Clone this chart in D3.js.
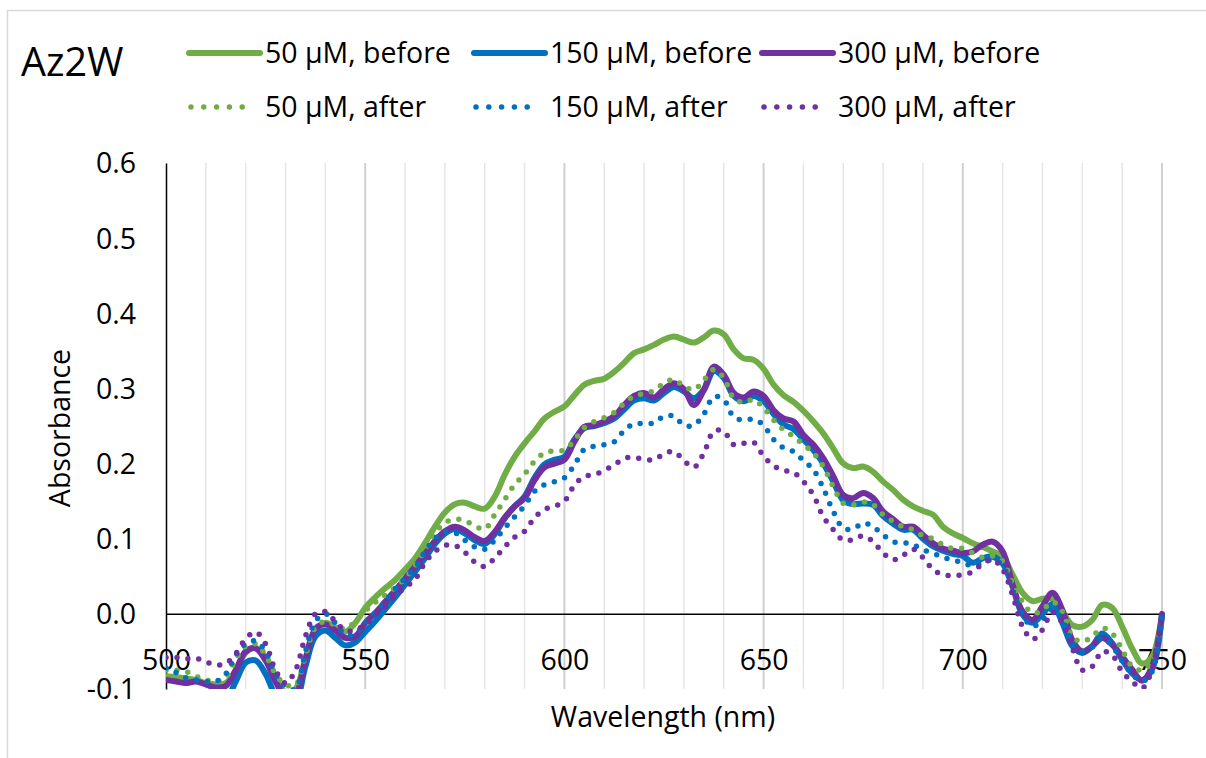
<!DOCTYPE html>
<html>
<head>
<meta charset="utf-8">
<script src="https://cdn.jsdelivr.net/npm/d3@7/dist/d3.min.js"></script>
<style>
  body { margin: 0; background: #fff; }
  svg text { font-family: "Open Sans", sans-serif; fill: #000; }
</style>
</head>
<body>
<svg id="chart" width="1206" height="758"></svg>
<script>
// wavelength grid (nm), 2.5 nm steps
const wavelengths = [
  500, 502.5, 505, 507.5, 510, 512.5, 515, 517.5, 520, 522.5,
  525, 527.5, 530, 532.5, 535, 537.5, 540, 542.5, 545, 547.5,
  550, 552.5, 555, 557.5, 560, 562.5, 565, 567.5, 570, 572.5,
  575, 577.5, 580, 582.5, 585, 587.5, 590, 592.5, 595, 597.5,
  600, 602.5, 605, 607.5, 610, 612.5, 615, 617.5, 620, 622.5,
  625, 627.5, 630, 632.5, 635, 637.5, 640, 642.5, 645, 647.5,
  650, 652.5, 655, 657.5, 660, 662.5, 665, 667.5, 670, 672.5,
  675, 677.5, 680, 682.5, 685, 687.5, 690, 692.5, 695, 697.5,
  700, 702.5, 705, 707.5, 710, 712.5, 715, 717.5, 720, 722.5,
  725, 727.5, 730, 732.5, 735, 737.5, 740, 742.5, 745, 747.5,
  750
];

const abs50Before = [
  -0.083, -0.084, -0.086, -0.088, -0.092, -0.094, -0.092, -0.075, -0.052, -0.045,
  -0.058, -0.085, -0.105, -0.1, -0.06, -0.022, -0.012, -0.018, -0.024, -0.012,
  0.008, 0.022, 0.034, 0.045, 0.059, 0.074, 0.094, 0.116, 0.135, 0.146,
  0.148, 0.143, 0.14, 0.156, 0.185, 0.209, 0.227, 0.243, 0.26, 0.269,
  0.276, 0.291, 0.305, 0.31, 0.313, 0.322, 0.334, 0.347, 0.352, 0.358,
  0.365, 0.369, 0.365, 0.361, 0.368, 0.377, 0.372, 0.352, 0.34, 0.338,
  0.326, 0.305, 0.291, 0.282, 0.27, 0.256, 0.24, 0.22, 0.2, 0.194,
  0.196, 0.189, 0.176, 0.165, 0.152, 0.143, 0.137, 0.132, 0.116, 0.107,
  0.101, 0.094, 0.089, 0.083, 0.076, 0.052, 0.028, 0.017, 0.02, 0.02,
  0.003, -0.015, -0.017, -0.008, 0.012, 0.008, -0.017, -0.046, -0.066, -0.057,
  -0.001
];

const abs150Before = [
  -0.103, -0.108, -0.115, -0.12, -0.12, -0.12, -0.115, -0.09, -0.065, -0.062,
  -0.08, -0.11, -0.13, -0.12, -0.07, -0.03, -0.022, -0.032, -0.042, -0.038,
  -0.024, -0.01, 0.006, 0.022, 0.039, 0.056, 0.074, 0.093, 0.107, 0.113,
  0.107, 0.098, 0.093, 0.106, 0.127, 0.143, 0.156, 0.181, 0.199, 0.205,
  0.209, 0.232, 0.247, 0.25, 0.254, 0.26, 0.272, 0.284, 0.287, 0.284,
  0.294, 0.302, 0.296, 0.287, 0.298, 0.323, 0.314, 0.29, 0.283, 0.29,
  0.283, 0.266, 0.252, 0.246, 0.232, 0.218, 0.2, 0.176, 0.151, 0.146,
  0.147, 0.145, 0.13, 0.12, 0.112, 0.112, 0.1, 0.09, 0.084, 0.08,
  0.077, 0.068, 0.074, 0.076, 0.067, 0.036, -0.001, -0.012, 0.0, 0.013,
  -0.012, -0.043, -0.052, -0.043, -0.026, -0.039, -0.061, -0.079, -0.088, -0.074,
  -0.002
];

const abs300Before = [
  -0.088, -0.09, -0.092, -0.09, -0.094, -0.098, -0.096, -0.075, -0.05, -0.046,
  -0.062, -0.09, -0.11, -0.108, -0.06, -0.02, -0.014, -0.022, -0.032, -0.03,
  -0.012, 0.001, 0.016, 0.031, 0.047, 0.063, 0.08, 0.097, 0.11, 0.116,
  0.111, 0.102, 0.097, 0.109, 0.128, 0.143, 0.154, 0.178, 0.195, 0.2,
  0.205, 0.229, 0.249, 0.251, 0.256, 0.263, 0.278, 0.29, 0.294, 0.288,
  0.299, 0.307, 0.299, 0.278, 0.298, 0.329, 0.318, 0.294, 0.288, 0.296,
  0.29, 0.271, 0.26, 0.256, 0.238, 0.225, 0.207, 0.183, 0.158, 0.154,
  0.161, 0.154, 0.136, 0.126, 0.116, 0.116, 0.105, 0.094, 0.087, 0.084,
  0.081, 0.083, 0.092, 0.096, 0.083, 0.039, 0.003, -0.008, 0.01, 0.028,
  0.005, -0.035, -0.05, -0.043, -0.032, -0.041, -0.057, -0.074, -0.089, -0.07,
  0.0
];

const abs50After = [
  -0.075, -0.075, -0.077, -0.083, -0.088, -0.09, -0.085, -0.06, -0.043, -0.04,
  -0.055, -0.08, -0.094, -0.095, -0.055, -0.018, -0.01, -0.015, -0.02, -0.01,
  0.004, 0.015, 0.025, 0.035, 0.047, 0.064, 0.085, 0.107, 0.121, 0.126,
  0.124, 0.117, 0.113, 0.132, 0.152, 0.172, 0.186, 0.203, 0.214, 0.217,
  0.218, 0.231, 0.248, 0.256, 0.261, 0.268, 0.28, 0.29, 0.293, 0.297,
  0.307, 0.312, 0.303, 0.298, 0.311, 0.325, 0.314, 0.287, 0.281, 0.285,
  0.274, 0.258, 0.245, 0.236, 0.225, 0.214, 0.196, 0.169, 0.147, 0.145,
  0.149, 0.145, 0.132, 0.123, 0.116, 0.112, 0.104, 0.1, 0.092, 0.087,
  0.087, 0.081, 0.075, 0.077, 0.07, 0.041, 0.016, 0.001, 0.005, 0.016,
  0.003, -0.03, -0.037, -0.03, -0.019, -0.026, -0.048, -0.07, -0.075, -0.063,
  -0.003
];

const abs150After = [
  -0.072, -0.078, -0.085, -0.088, -0.09, -0.09, -0.08, -0.055, -0.04, -0.036,
  -0.05, -0.08, -0.097, -0.1, -0.05, -0.01, 0.0, -0.012, -0.028, -0.027,
  -0.012, 0.001, 0.016, 0.033, 0.047, 0.061, 0.083, 0.1, 0.109, 0.108,
  0.098, 0.089, 0.086, 0.098, 0.114, 0.129, 0.144, 0.163, 0.172, 0.176,
  0.181, 0.198, 0.219, 0.223, 0.225, 0.229, 0.244, 0.253, 0.253, 0.254,
  0.263, 0.263, 0.251, 0.251, 0.266, 0.289, 0.285, 0.262, 0.258, 0.259,
  0.251, 0.232, 0.221, 0.216, 0.204, 0.192, 0.167, 0.136, 0.114, 0.113,
  0.121, 0.116, 0.105, 0.096, 0.095, 0.092, 0.085, 0.081, 0.075, 0.072,
  0.068, 0.064, 0.068, 0.072, 0.064, 0.032, -0.001, -0.017, -0.008, 0.006,
  -0.008, -0.039, -0.05, -0.044, -0.032, -0.043, -0.063, -0.08, -0.09, -0.077,
  -0.003
];

const abs300After = [
  -0.058, -0.058, -0.06, -0.059, -0.064, -0.068, -0.066, -0.053, -0.033, -0.024,
  -0.04, -0.075, -0.092, -0.075, -0.03, 0.0, 0.003, -0.01, -0.022, -0.022,
  -0.014, -0.002, 0.01, 0.024, 0.035, 0.046, 0.068, 0.083, 0.091, 0.091,
  0.082, 0.069, 0.063, 0.074, 0.089, 0.102, 0.11, 0.128, 0.139, 0.143,
  0.15, 0.171, 0.183, 0.185, 0.191, 0.198, 0.207, 0.208, 0.206, 0.205,
  0.213, 0.216, 0.204, 0.195, 0.214, 0.243, 0.243, 0.225, 0.227, 0.228,
  0.21, 0.197, 0.191, 0.188, 0.176, 0.158, 0.129, 0.112, 0.098, 0.099,
  0.104, 0.096, 0.081, 0.072, 0.078, 0.086, 0.075, 0.059, 0.052, 0.051,
  0.052, 0.056, 0.067, 0.072, 0.059, 0.025, -0.017, -0.034, -0.021, 0.002,
  -0.012, -0.046, -0.075, -0.07, -0.05, -0.055, -0.077, -0.09, -0.099, -0.074,
  -0.003
];

const seriesNames = ["50 µM, before", "150 µM, before", "300 µM, before",
                     "50 µM, after", "150 µM, after", "300 µM, after"];
const xTickValues = [500, 550, 600, 650, 700, 750];
const xTickLabels = ["500", "550", "600", "650", "700", "750"];
const yTickValues = [-0.1, 0, 0.1, 0.2, 0.3, 0.4, 0.5, 0.6];
const yTickLabels = ["-0.1", "0.0", "0.1", "0.2", "0.3", "0.4", "0.5", "0.6"];

const green = "#70AD47", blue = "#0070C0", purple = "#7030A0";
const series = [
  { name: seriesNames[0], values: abs50Before, color: green, dotted: false },
  { name: seriesNames[1], values: abs150Before, color: blue, dotted: false },
  { name: seriesNames[2], values: abs300Before, color: purple, dotted: false },
  { name: seriesNames[3], values: abs50After, color: green, dotted: true },
  { name: seriesNames[4], values: abs150After, color: blue, dotted: true },
  { name: seriesNames[5], values: abs300After, color: purple, dotted: true }
];

const fontSize = "28.5px";
const svg = d3.select("#chart");
const plot = { left: 166, right: 1162, top: 163, bottom: 689 };

// chart border
svg.append("rect")
  .attr("x", 7.5).attr("y", 10.5)
  .attr("width", 1220).attr("height", 770)
  .attr("fill", "#fff").attr("stroke", "#d9d9d9").attr("stroke-width", 1.5);

const x = d3.scaleLinear().domain([500, 750]).range([plot.left, plot.right]);
const y = d3.scaleLinear().domain([-0.1, 0.6]).range([plot.bottom, plot.top]);

// vertical gridlines every 10 nm
svg.append("g")
  .selectAll("line")
  .data(x.ticks(25).filter(d => d > 500))
  .join("line")
  .attr("x1", d => x(d)).attr("x2", d => x(d))
  .attr("y1", plot.top).attr("y2", plot.bottom)
  .attr("stroke", d => d % 50 === 0 ? "#d0d0d0" : "#e6e6e6")
  .attr("stroke-width", d => d % 50 === 0 ? 2 : 1.5);

// y axis
const yAxis = svg.append("g")
  .attr("transform", `translate(${plot.left},0)`)
  .call(d3.axisLeft(y).tickValues(yTickValues)
    .tickFormat((d, i) => yTickLabels[i]).tickSize(0).tickSizeOuter(0));
yAxis.select(".domain").attr("stroke", "#000").attr("stroke-width", 1.5);
yAxis.selectAll("text")
  .attr("x", -30).attr("dy", "0.35em")
  .style("font-size", fontSize).style("font-family", "'Open Sans', sans-serif");

// x axis crossing at zero
const xAxis = svg.append("g")
  .attr("transform", `translate(0,${y(0)})`)
  .call(d3.axisBottom(x).tickValues(xTickValues)
    .tickFormat((d, i) => xTickLabels[i]).tickSize(0).tickSizeOuter(0));
xAxis.select(".domain").attr("stroke", "#000").attr("stroke-width", 1.5);
xAxis.selectAll("text")
  .attr("y", 46).attr("dy", "0.35em")
  .style("font-size", fontSize).style("font-family", "'Open Sans', sans-serif");

// series, clipped to the plot area
svg.append("clipPath").attr("id", "plotClip")
  .append("rect")
  .attr("x", plot.left).attr("y", plot.top)
  .attr("width", plot.right - plot.left + 4).attr("height", plot.bottom - plot.top);

const line = d3.line()
  .x((d, i) => x(wavelengths[i]))
  .y(d => y(d))
  .curve(d3.curveCatmullRom.alpha(0.5));

svg.append("g").attr("clip-path", "url(#plotClip)")
  .selectAll("path")
  .data(series)
  .join("path")
  .attr("d", d => line(d.values))
  .attr("fill", "none")
  .attr("stroke", d => d.color)
  .attr("stroke-width", d => d.dotted ? 5.5 : 6)
  .attr("stroke-linecap", "round")
  .attr("stroke-linejoin", "round")
  .attr("stroke-dasharray", d => d.dotted ? "0 11" : null);

// axis titles
svg.append("text")
  .attr("x", 663).attr("y", 717).attr("dy", "0.35em")
  .attr("text-anchor", "middle")
  .style("font-size", fontSize)
  .text("Wavelength (nm)");

svg.append("text")
  .attr("transform", "translate(60,428) rotate(-90)")
  .attr("dy", "0.35em")
  .attr("text-anchor", "middle")
  .style("font-size", fontSize)
  .text("Absorbance");

// title
svg.append("text")
  .attr("x", 21).attr("y", 62).attr("dy", "0.35em")
  .style("font-size", "39.5px")
  .text("Az2W");

// legend: 3 columns, 2 rows
const legendX = [265, 550, 838];
const legendY = [53, 107];
const legend = svg.append("g")
  .selectAll("g")
  .data(series)
  .join("g")
  .attr("transform", (d, i) => `translate(${legendX[i % 3]},${legendY[Math.floor(i / 3)]})`);

legend.append("line")
  .attr("x1", d => d.dotted ? -74 : -76).attr("x2", d => d.dotted ? -10 : -5)
  .attr("y1", 0).attr("y2", 0)
  .attr("stroke", d => d.color)
  .attr("stroke-width", d => d.dotted ? 5.5 : 6)
  .attr("stroke-linecap", "round")
  .attr("stroke-dasharray", d => d.dotted ? "0 12.8" : null);

legend.append("text")
  .attr("x", 0).attr("dy", "0.35em")
  .style("font-size", fontSize)
  .text(d => d.name);
</script>
</body>
</html>
